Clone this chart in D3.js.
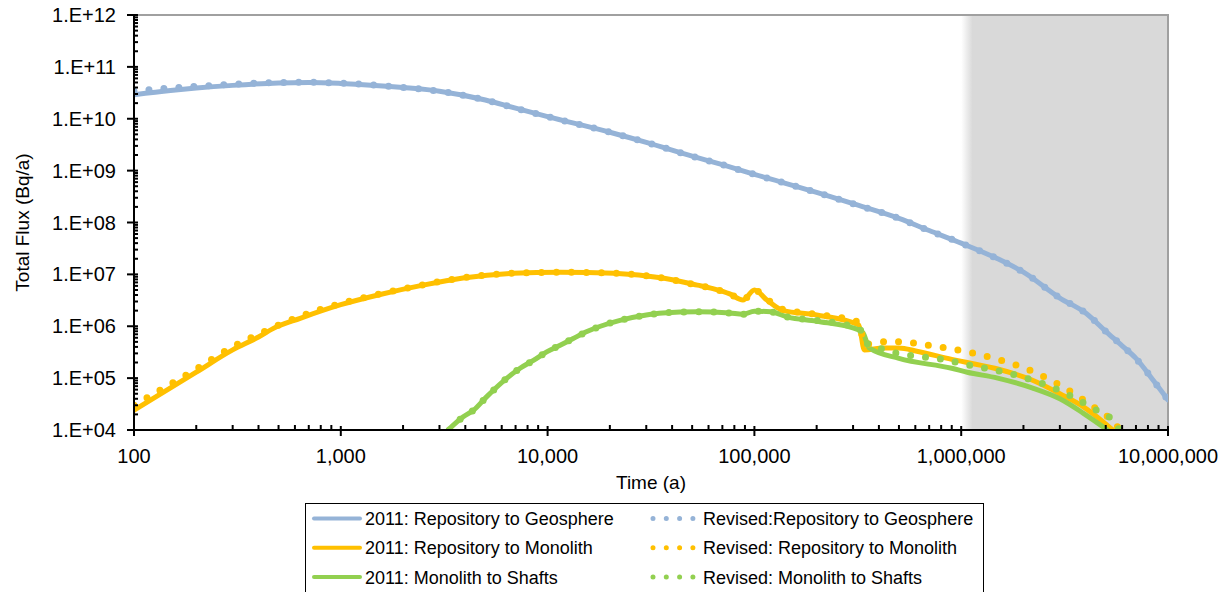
<!DOCTYPE html>
<html lang="en">
  <head>
    <meta charset="UTF-8" />
    <title>Total Flux</title>
    <script src="https://cdn.jsdelivr.net/npm/d3@7"></script>
    <style>
      body { margin: 0; background: #fff; }
      text { font-family: 'Liberation Sans', Arial, sans-serif; fill: #000; }
    </style>
  </head>
  <body>
    <div id="chart_svg"></div>
    <script>
      // ---- data ----
      const geoTime2011 = [100, 150, 200, 300, 500, 700, 1000, 2000, 3000, 5000, 7000, 10000, 20000, 30000, 50000, 70000, 1e5, 2e5, 3e5, 5e5, 7e5, 1e6, 1.5e6, 2e6, 3e6, 4e6, 5e6, 6e6, 7e6, 8.5e6, 1e7]
      const geoFlux2011 = [2.9e10, 3.5e10, 3.9e10, 4.4e10, 4.9e10, 5.0e10, 4.8e10, 4.0e10, 3.4e10, 2.3e10, 1.6e10, 1.1e10, 5.5e9, 3.5e9, 1.9e9, 1.3e9, 8.5e8, 3.8e8, 2.3e8, 1.2e8, 7e7, 4e7, 2e7, 1.1e7, 3.5e6, 1.8e6, 8e5, 4.2e5, 2.4e5, 9e4, 3.8e4]
      const geoTimeRev = [100, 150, 200, 300, 500, 700, 1000, 2000, 3000, 5000, 7000, 10000, 20000, 30000, 50000, 70000, 1e5, 2e5, 3e5, 5e5, 7e5, 1e6, 1.5e6, 2e6, 3e6, 4e6, 5e6, 6e6, 7e6, 8.5e6, 1e7]
      const geoFluxRev = [3.4e10, 3.9e10, 4.2e10, 4.6e10, 5.0e10, 5.05e10, 4.85e10, 4.0e10, 3.4e10, 2.3e10, 1.6e10, 1.1e10, 5.5e9, 3.5e9, 1.9e9, 1.3e9, 8.5e8, 3.8e8, 2.3e8, 1.2e8, 7e7, 4e7, 2e7, 1.1e7, 3.5e6, 1.8e6, 8e5, 4.2e5, 2.4e5, 9e4, 3.8e4]

      const monoTime2011 = [100, 200, 300, 400, 470, 636, 1000, 1550, 2500, 3900, 6800, 11500, 21000, 36000, 53000, 63000, 76000, 88000, 100000, 115000, 138000, 200000, 320000, 340000, 420000, 500000, 610000, 900000, 1.07e6, 1.5e6, 2.2e6, 3e6, 3.9e6, 4.7e6, 5.4e6]
      const monoFlux2011 = [2.4e4, 1.3e5, 3.5e5, 6.2e5, 9e5, 1.42e6, 2.6e6, 4.1e6, 6.2e6, 8.5e6, 1.05e7, 1.1e7, 1.05e7, 8.5e6, 6.2e6, 5.3e6, 4.2e6, 3.2e6, 5e6, 3.2e6, 2e6, 1.65e6, 1.06e6, 3.5e5, 3.8e5, 3.8e5, 3.3e5, 2.3e5, 2e5, 1.5e5, 9.2e4, 5e4, 2.8e4, 1.6e4, 1e4]
      const monoTimeRev = [100, 200, 300, 400, 636, 1000, 1550, 2500, 3900, 6800, 11500, 21000, 36000, 53000, 63000, 76000, 88000, 100000, 115000, 138000, 200000, 320000, 340000, 420000, 500000, 700000, 850000, 1.2e6, 2.3e6, 3.6e6, 4.8e6, 5.6e6, 5.8e6]
      const monoFluxRev = [3.0e4, 1.5e5, 4e5, 7e5, 1.55e6, 2.75e6, 4.2e6, 6.3e6, 8.6e6, 1.05e7, 1.1e7, 1.05e7, 8.5e6, 6.2e6, 5.3e6, 4.2e6, 3.2e6, 5e6, 3.3e6, 2.1e6, 1.7e6, 1.2e6, 4.5e5, 5e5, 5e5, 4.3e5, 3.8e5, 2.9e5, 1.26e5, 4.7e4, 2.1e4, 1.3e4, 1e4]

      const shaftTime2011 = [3300, 3910, 4380, 5080, 6340, 7360, 8540, 9900, 11500, 13300, 15500, 18000, 22400, 30000, 36000, 53000, 76000, 88000, 100000, 120000, 145000, 200000, 320000, 335000, 360000, 500000, 900000, 1.07e6, 1.5e6, 2.2e6, 3.0e6, 3.9e6, 5.1e6]
      const shaftFlux2011 = [1e4, 1.8e4, 2.4e4, 4.4e4, 9.9e4, 1.55e5, 2.2e5, 3.2e5, 4.3e5, 5.8e5, 7.9e5, 1e6, 1.3e6, 1.65e6, 1.8e6, 1.9e6, 1.8e6, 1.7e6, 1.95e6, 1.9e6, 1.5e6, 1.25e6, 8.5e5, 7.5e5, 3.8e5, 2.4e5, 1.55e5, 1.3e5, 1e5, 6.5e4, 4e4, 2.1e4, 1e4]
      const shaftTimeRev = [3350, 3910, 4380, 5080, 6340, 7360, 8540, 9900, 11500, 13300, 15500, 18000, 22400, 30000, 36000, 53000, 76000, 88000, 100000, 120000, 145000, 200000, 320000, 335000, 350000, 420000, 490000, 580000, 690000, 820000, 980000, 1.9e6, 3.1e6, 4.2e6, 5.6e6, 5.8e6]
      const shaftFluxRev = [1e4, 1.8e4, 2.4e4, 4.4e4, 9.9e4, 1.55e5, 2.2e5, 3.2e5, 4.3e5, 5.8e5, 7.9e5, 1e6, 1.3e6, 1.65e6, 1.8e6, 1.9e6, 1.8e6, 1.7e6, 1.95e6, 1.9e6, 1.5e6, 1.3e6, 9e5, 7e5, 4.7e5, 3.6e5, 3e5, 2.7e5, 2.5e5, 2.3e5, 1.95e5, 1.1e5, 5.4e4, 2.8e4, 1.3e4, 1e4]

      const seriesNames = [
        '2011: Repository to Geosphere',
        '2011: Repository to Monolith',
        '2011: Monolith to Shafts',
        'Revised:Repository to Geosphere',
        'Revised: Repository to Monolith',
        'Revised: Monolith to Shafts'
      ]
      const xTicks = [100, 1000, 10000, 100000, 1000000, 10000000]
      const yTicks = [1e4, 1e5, 1e6, 1e7, 1e8, 1e9, 1e10, 1e11, 1e12]
      const shadeStart = 1e6
      const shadeEnd = 1e7

      // ---- layout ----
      const W = 1227, H = 592
      const m = { left: 134, right: 1168, top: 15, bottom: 430 }
      const colors = ['#95b3d7', '#ffc000', '#92d050']

      const svg = d3.select('#chart_svg').append('svg')
        .attr('width', W).attr('height', H)

      const x = d3.scaleLog().domain([100, 1e7]).range([m.left, m.right])
      const y = d3.scaleLog().domain([1e4, 1e12]).range([m.bottom, m.top])

      const defs = svg.append('defs')
      defs.append('clipPath').attr('id', 'plot')
        .append('rect')
        .attr('x', m.left).attr('y', m.top)
        .attr('width', m.right - m.left).attr('height', m.bottom - m.top)
      const grad = defs.append('linearGradient').attr('id', 'shade')
        .attr('x1', 0).attr('x2', 1).attr('y1', 0).attr('y2', 0)
      grad.append('stop').attr('offset', 0).attr('stop-color', '#ffffff')
      grad.append('stop').attr('offset', 0.055).attr('stop-color', '#d9d9d9')
      grad.append('stop').attr('offset', 1).attr('stop-color', '#d9d9d9')

      // shaded region
      svg.append('rect')
        .attr('x', x(shadeStart)).attr('y', m.top)
        .attr('width', x(shadeEnd) - x(shadeStart)).attr('height', m.bottom - m.top)
        .attr('fill', 'url(#shade)')

      // frame top / right
      svg.append('path')
        .attr('d', `M${m.left},${m.top}H${m.right}V${m.bottom}`)
        .attr('fill', 'none').attr('stroke', '#a0a0a0').attr('stroke-width', 2)

      // ---- series ----
      const line = d3.line()
        .x(d => x(d[0]))
        .y(d => y(d[1]))
        .curve(d3.curveMonotoneX)

      const series = [
        { t: geoTime2011, v: geoFlux2011, c: colors[0], dotted: false },
        { t: monoTime2011, v: monoFlux2011, c: colors[1], dotted: false },
        { t: shaftTime2011, v: shaftFlux2011, c: colors[2], dotted: false },
        { t: geoTimeRev, v: geoFluxRev, c: colors[0], dotted: true },
        { t: monoTimeRev, v: monoFluxRev, c: colors[1], dotted: true },
        { t: shaftTimeRev, v: shaftFluxRev, c: colors[2], dotted: true }
      ]

      const plot = svg.append('g').attr('clip-path', 'url(#plot)')
      series.forEach(s => {
        const pts = s.t.map((t, i) => [t, s.v[i]])
        plot.append('path')
          .attr('d', line(pts))
          .attr('fill', 'none')
          .attr('stroke', s.c)
          .attr('stroke-width', s.dotted ? 7 : 5)
          .attr('stroke-linecap', 'round')
          .attr('stroke-linejoin', 'round')
          .attr('stroke-dasharray', s.dotted ? '0 15' : null)
      })

      // ---- axes ----
      const minorX = []
      for (let d = 100; d < 1e7; d *= 10) for (let k = 2; k <= 9; k++) minorX.push(d * k)
      const minorY = []
      for (let d = 1e4; d < 1e12; d *= 10) for (let k = 2; k <= 9; k++) minorY.push(d * k)

      const axes = svg.append('g').attr('stroke', '#000').attr('stroke-width', 2)
      axes.selectAll('.mx').data(minorX).join('line')
        .attr('x1', d => x(d)).attr('x2', d => x(d))
        .attr('y1', m.bottom - 5).attr('y2', m.bottom)
      axes.selectAll('.Mx').data(xTicks).join('line')
        .attr('x1', d => x(d)).attr('x2', d => x(d))
        .attr('y1', m.bottom - 4).attr('y2', m.bottom + 6)
      axes.selectAll('.my').data(minorY).join('line')
        .attr('x1', m.left).attr('x2', m.left + 4)
        .attr('y1', d => y(d)).attr('y2', d => y(d))
      axes.selectAll('.My').data(yTicks).join('line')
        .attr('x1', m.left - 7).attr('x2', m.left + 4)
        .attr('y1', d => y(d)).attr('y2', d => y(d))
      axes.append('path')
        .attr('d', `M${m.left},${m.top}V${m.bottom}H${m.right}`)
        .attr('fill', 'none')

      svg.append('g').selectAll('text').data(xTicks).join('text')
        .attr('x', d => x(d)).attr('y', 463)
        .attr('text-anchor', 'middle')
        .attr('font-size', 20)
        .text(d => d3.format(',')(d))

      svg.append('g').selectAll('text').data(yTicks).join('text')
        .attr('x', 116).attr('y', d => y(d) + 7)
        .attr('text-anchor', 'end')
        .attr('font-size', 20)
        .text(d => '1.E+' + String(Math.round(Math.log10(d))).padStart(2, '0'))

      svg.append('text')
        .attr('x', (m.left + m.right) / 2).attr('y', 489)
        .attr('text-anchor', 'middle').attr('font-size', 19)
        .text('Time (a)')

      svg.append('text')
        .attr('transform', `translate(29,${(m.top + m.bottom) / 2}) rotate(-90)`)
        .attr('text-anchor', 'middle').attr('font-size', 19)
        .text('Total Flux (Bq/a)')

      // ---- legend ----
      const legend = svg.append('g')
      legend.append('rect')
        .attr('x', 305.5).attr('y', 503.5).attr('width', 678).attr('height', 100)
        .attr('fill', '#fff').attr('stroke', '#000').attr('stroke-width', 1)

      series.forEach((s, i) => {
        const col = i < 3 ? 0 : 1
        const row = i % 3
        const cy = 518.5 + row * 29.3
        const g = legend.append('g')
        if (!s.dotted) {
          g.append('line')
            .attr('x1', 314).attr('x2', 360).attr('y1', cy).attr('y2', cy)
            .attr('stroke', s.c).attr('stroke-width', 4).attr('stroke-linecap', 'round')
        } else {
          g.append('line')
            .attr('x1', 653).attr('x2', 694).attr('y1', cy).attr('y2', cy)
            .attr('stroke', s.c).attr('stroke-width', 5).attr('stroke-linecap', 'round')
            .attr('stroke-dasharray', '0 13.3')
        }
        g.append('text')
          .attr('x', col ? 703 : 365).attr('y', cy + 6.5)
          .attr('font-size', 18)
          .text(seriesNames[i])
      })
    </script>
  </body>
</html>
